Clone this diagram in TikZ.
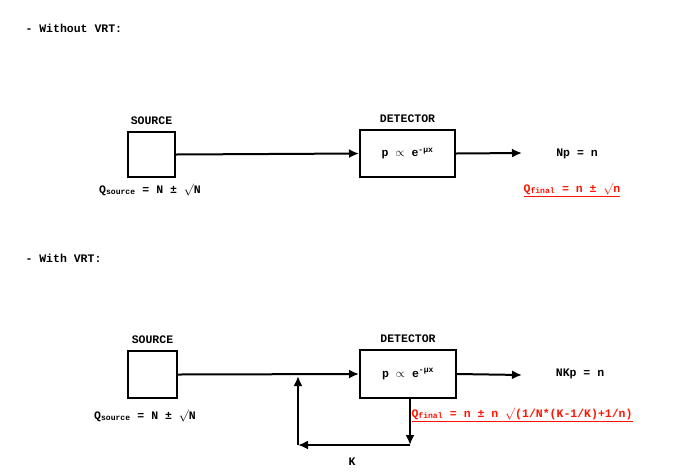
\documentclass[tikz,border=0pt]{standalone}
\usepackage{fontspec}
\setmonofont{Liberation Mono}
\usetikzlibrary{arrows.meta, positioning}
\begin{document}
\begin{tikzpicture}[x=1pt, y=-1pt, font=\ttfamily\bfseries\fontsize{11.5}{13}\selectfont,
    blk/.style={draw, line width=2pt, inner sep=0pt},
    flow/.style={line width=2pt, -{Latex[length=10pt,width=9pt]}},
    res/.style={red!85!orange}]
\useasboundingbox (0,0) rectangle (695,472);

% without VRT
\node[anchor=west] (t1) at (22,28) {- Without VRT:};
\node[blk, minimum width=47pt, minimum height=45pt] (src1) at (151.5,154.5) {};
\node[blk, minimum width=95pt, minimum height=47pt] (det1) at (407.5,153.5) {p $\propto$ e\textsuperscript{-µx}};
\node[above=3pt of src1] {SOURCE};
\node[above=3pt of det1] {DETECTOR};
\node (out1) at (577,154) {Np = n};
\coordinate (e1) at (522,153);
\draw[flow] (src1.east) -- (det1.west);
\draw[flow] (det1.east) -- (e1);
\node (qs1) at (150,190) {Q\textsubscript{source} = N ± $\surd$N};
\node[res] (qf1) at (572,190) {\underline{Q\textsubscript{final} = n ± $\surd$n}};

% with VRT
\node[anchor=west] (t2) at (22,258) {- With VRT:};
\node[blk, minimum width=49pt, minimum height=47pt] (src2) at (152.5,374.5) {};
\node[blk, minimum width=96pt, minimum height=48pt] (det2) at (408,374) {p $\propto$ e\textsuperscript{-µx}};
\node[above=3pt of src2] {SOURCE};
\node[above=3pt of det2] {DETECTOR};
\node (out2) at (580,374) {NKp = n};
\coordinate (e2) at (522,375);
\coordinate (j) at (298,376);
\coordinate (d) at (410,445);
\coordinate (b) at (298,445);
\draw[flow] (src2.east) -- (det2.west);
\draw[flow] (det2.east) -- (e2);
\draw[flow] (det2.south -| d) -- (d);
\draw[flow] (d) -- (b);
\draw[flow] (b) -- (j);
\node (k) at (352,462) {K};
\node (qs2) at (145,416) {Q\textsubscript{source} = N ± $\surd$N};
\node[res, anchor=west] (qf2) at (408,415) {\underline{Q\textsubscript{final} = n ± n $\surd$(1/N*(K-1/K)+1/n)}};
\end{tikzpicture}
\end{document}
